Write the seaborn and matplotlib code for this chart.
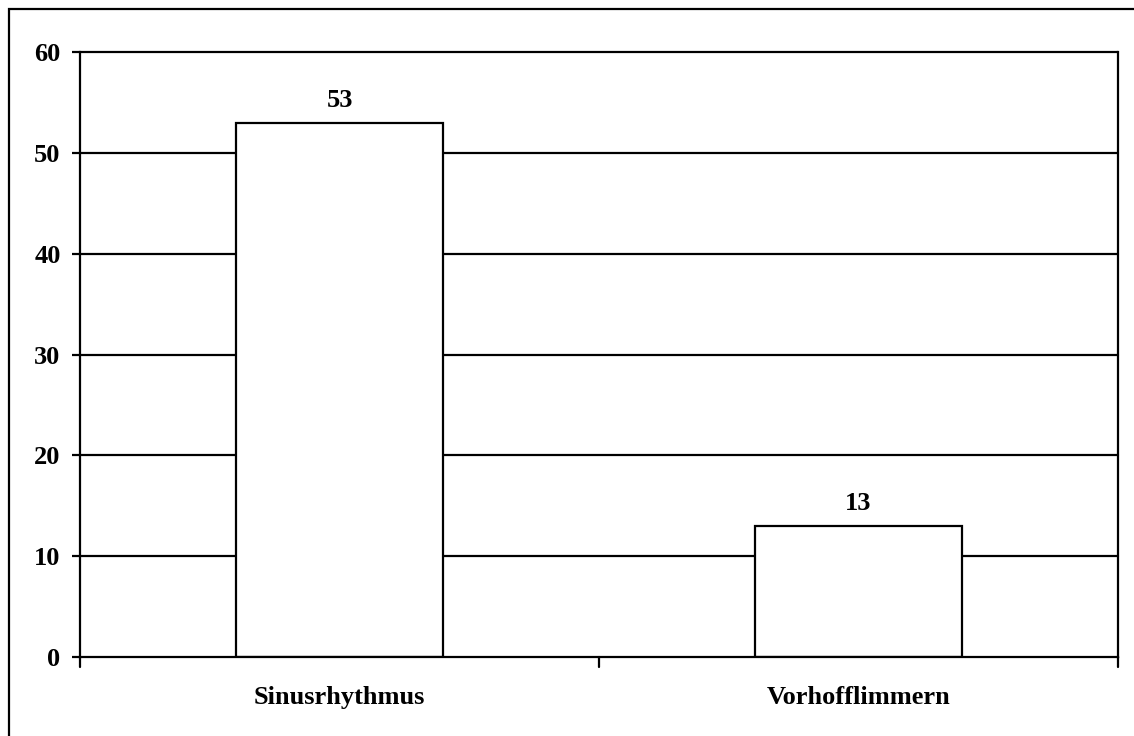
import matplotlib
matplotlib.use("Agg")
import matplotlib.pyplot as plt
from matplotlib.patches import Rectangle
import seaborn as sns
import pandas as pd

categories = ["Sinusrhythmus", "Vorhofflimmern"]
counts = [53, 13]
y_ticks = [0, 10, 20, 30, 40, 50, 60]

sns.set_style("white")
plt.rcParams["font.family"] = ["Liberation Serif", "DejaVu Serif"]
plt.rcParams["font.weight"] = "bold"
plt.rcParams["text.color"] = "black"
plt.rcParams["xtick.color"] = "black"
plt.rcParams["ytick.color"] = "black"

FS = 19

df = pd.DataFrame({"rhythm": categories, "count": counts})

fig = plt.figure(figsize=(11.34, 7.36), dpi=100)
ax = fig.add_axes([80 / 1134, 1 - 657 / 736, (1118 - 80) / 1134, (657 - 52) / 736])

# horizontal grid lines behind the bars
for t in y_ticks[1:]:
    ax.axhline(t, color="black", lw=1.6, zorder=0, clip_on=False)

sns.barplot(data=df, x="rhythm", y="count", color="white", edgecolor="black",
            linewidth=1.6, width=0.4, saturation=1, ax=ax, zorder=2)

for i, v in enumerate(counts):
    ax.text(i, v + 2.2, str(v), ha="center", va="center",
            fontsize=FS, fontweight="bold", color="black")

ax.set_xlim(-0.5, 1.5)
ax.set_ylim(0, 60)
ax.set_yticks(y_ticks)
ax.set_yticklabels([str(t) for t in y_ticks], fontsize=FS, fontweight="bold")
ax.set_xticks([0, 1])
ax.set_xticklabels(categories, fontsize=FS, fontweight="bold")
ax.tick_params(axis="x", length=0, pad=21)
ax.tick_params(axis="y", direction="out", length=6, width=1.6, pad=8, left=True)

# boundary ticks between categories on the x axis
for xb in [-0.5, 0.5, 1.5]:
    ax.plot([xb, xb], [0, -1], color="black", lw=1.6, clip_on=False, zorder=3)

ax.set_xlabel("")
ax.set_ylabel("")
ax.spines["top"].set_visible(False)
for side in ["left", "bottom", "right"]:
    ax.spines[side].set_color("black")
    ax.spines[side].set_linewidth(1.6)
    ax.spines[side].set_zorder(4)

# outer chart frame (its right and bottom edges lie outside the canvas)
fig.patches.append(Rectangle((8.5 / 1134, -20 / 736), 1200 / 1134, 747.5 / 736,
                             transform=fig.transFigure, fill=False,
                             edgecolor="black", lw=1.6))

fig.savefig("out.png", dpi=100, facecolor="white")
